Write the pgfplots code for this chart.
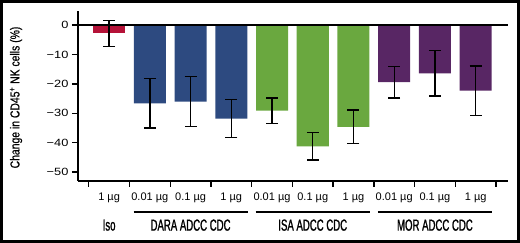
\documentclass[border=0pt]{standalone}
\usepackage{fontspec}
\setmainfont{Liberation Sans}
\newfontfamily\condfont[FakeStretch=0.6, FakeBold=1.2]{Liberation Sans}
\newfontfamily\ylabfont[FakeStretch=0.8, FakeBold=0.6]{Liberation Sans}
\newfontfamily\widefont[FakeStretch=1.22]{Liberation Sans}
\usepackage{pgfplots}
\pgfplotsset{compat=1.18}
\definecolor{cred}{RGB}{181,18,56}
\definecolor{cblue}{RGB}{45,74,128}
\definecolor{cgreen}{RGB}{106,168,63}
\definecolor{cpurple}{RGB}{88,38,100}
\begin{document}
\begin{tikzpicture}[x=1pt,y=1pt]
\useasboundingbox (0,0) rectangle (520,243);
\draw[line width=3pt] (1.5,1.5) rectangle (518.5,241.5);
\node[rotate=90, font=\fontsize{13}{14}\ylabfont] at (16,145.5) {Change in CD45\textsuperscript{+} NK cells (\%)};
\begin{axis}[
  at={(78pt,62pt)}, anchor=south west, scale only axis,
  width=430pt, height=170pt,
  xmin=-0.764, xmax=9.794, ymin=-53, ymax=4.8,
  axis x line*=bottom, axis y line*=left,
  axis line style={line width=1.4pt, -},
  tick align=outside, major tick length=6pt,
  tick style={black, line width=1.4pt},
  ytick={-50,-40,-30,-20,-10,0},
  yticklabels={−50,−40,−30,−20,−10,0},
  yticklabel style={font=\fontsize{10.5}{12}\widefont},
  xtick={-0.5,0.5,...,9.5},
  xticklabels={,,,,,,,,,,,},
  extra x ticks={0,1,2,3,4,5,6,7,8,9},
  extra x tick labels={1 µg,0.01 µg,0.1 µg,1 µg,0.01 µg,0.1 µg,1 µg,0.01 µg,0.1 µg,1 µg},
  extra x tick style={major tick length=0pt, tick style={draw=none}},
  xticklabel style={font=\fontsize{11}{12}\selectfont, yshift=-8pt},
  clip=false,
  ybar, bar width=0.786, bar shift=0pt,
  error bars/y dir=both, error bars/y explicit,
  error bars/error bar style={line width=1.4pt, black},
  error bars/error mark options={rotate=90, mark size=6pt, line width=1.4pt, black},
]
\addplot[fill=cred, draw=none] coordinates {(0,-2.8) +- (0,4.4)};
\addplot[fill=cblue, draw=none] coordinates {(1,-26.6) +- (0,8.4) (2,-26.0) +- (0,8.5) (3,-31.8) +- (0,6.5)};
\addplot[fill=cgreen, draw=none] coordinates {(4,-29.1) +- (0,4.3) (5,-41.2) +- (0,4.7) (6,-34.6) +- (0,5.7)};
\addplot[fill=cpurple, draw=none] coordinates {(7,-19.4) +- (0,5.4) (8,-16.4) +- (0,7.7) (9,-22.3) +- (0,8.4)};
\draw[line width=1.3pt] (axis cs:-0.764,0) -- (axis cs:9.794,0);
\draw[line width=1.4pt] (axis cs:0.6,-63.6) -- (axis cs:3.4,-63.6);
\draw[line width=1.4pt] (axis cs:3.6,-63.6) -- (axis cs:6.4,-63.6);
\draw[line width=1.4pt] (axis cs:6.6,-63.6) -- (axis cs:9.4,-63.6);
\node[font=\fontsize{16}{17}\condfont] at (axis cs:0,-68) {Iso};
\node[font=\fontsize{16}{17}\condfont] at (axis cs:2,-68) {DARA ADCC CDC};
\node[font=\fontsize{16}{17}\condfont] at (axis cs:5,-68) {ISA ADCC CDC};
\node[font=\fontsize{16}{17}\condfont] at (axis cs:8,-68) {MOR ADCC CDC};
\end{axis}
\end{tikzpicture}
\end{document}
